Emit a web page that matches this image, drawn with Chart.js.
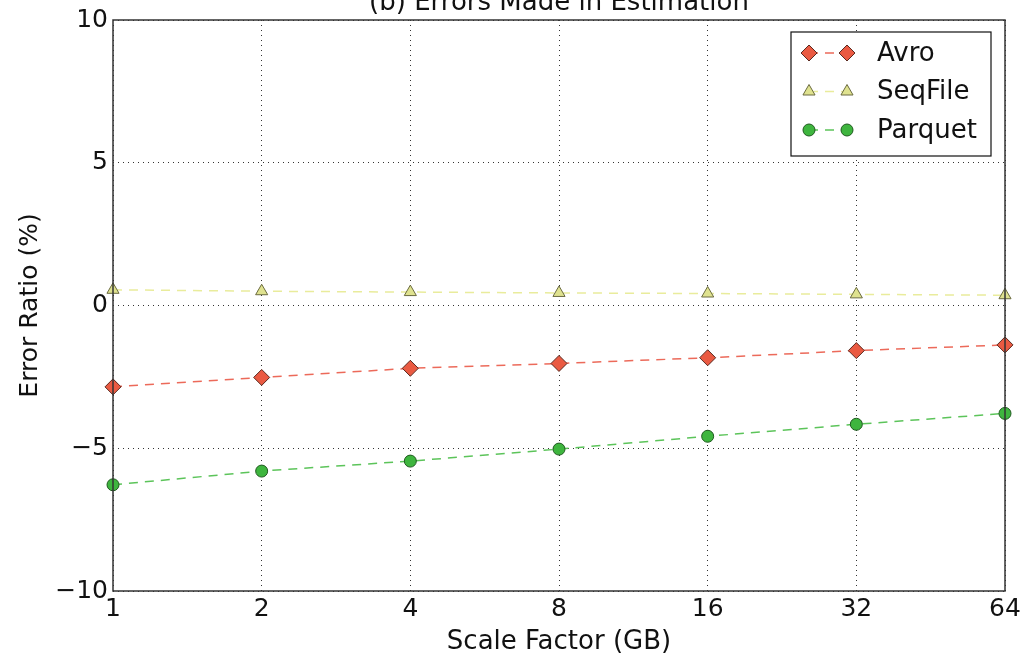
<!DOCTYPE html>
<html>
<head>
<meta charset="utf-8">
<script src="https://cdn.jsdelivr.net/npm/chart.js@4"></script>
<style>
  html, body { margin: 0; padding: 0; background: #fff; }
  #wrap { width: 1032px; height: 658px; }
</style>
</head>
<body>
<div id="wrap"><canvas id="chart" width="1032" height="658"></canvas></div>
<script>
// Chart data
const scaleFactors = ['1', '2', '4', '8', '16', '32', '64'];
const avroErrors = [-2.85, -2.52, -2.2, -2.03, -1.83, -1.58, -1.38];
const seqFileErrors = [0.55, 0.5, 0.47, 0.44, 0.42, 0.39, 0.36];
const parquetErrors = [-6.28, -5.8, -5.45, -5.03, -4.58, -4.16, -3.78];
const yTicks = [-10, -5, 0, 5, 10];

const FONT = 'DejaVu Sans';

// Frame around plot area + title, drawn like matplotlib
const framePlugin = {
    id: 'frame',
    afterDraw(chart) {
        const { ctx, chartArea: a } = chart;
        ctx.save();
        ctx.strokeStyle = '#333';
        ctx.lineWidth = 1.5;
        ctx.strokeRect(a.left, a.top, a.right - a.left, a.bottom - a.top);
        ctx.fillStyle = '#111';
        ctx.font = '26px ' + FONT;
        ctx.textAlign = 'center';
        ctx.textBaseline = 'alphabetic';
        ctx.fillText('(b) Errors Made in Estimation', (a.left + a.right) / 2, 10);
        ctx.restore();
    }
};

// Matplotlib-style legend: marker - line - marker
const legendPlugin = {
    id: 'mplLegend',
    afterDraw(chart) {
        const { ctx } = chart;
        const box = { x: 791, y: 32, w: 200, h: 124 };
        ctx.save();
        ctx.fillStyle = '#fff';
        ctx.fillRect(box.x, box.y, box.w, box.h);
        ctx.strokeStyle = '#111';
        ctx.lineWidth = 1.2;
        ctx.strokeRect(box.x, box.y, box.w, box.h);
        chart.data.datasets.forEach((ds, i) => {
            const y = 53 + i * 38.5;
            ctx.strokeStyle = ds.borderColor;
            ctx.lineWidth = ds.borderWidth;
            ctx.setLineDash(ds.borderDash);
            ctx.beginPath();
            ctx.moveTo(809, y);
            ctx.lineTo(847, y);
            ctx.stroke();
            ctx.setLineDash([]);
            [809, 847].forEach(px => {
                ctx.fillStyle = ds.pointBackgroundColor;
                ctx.strokeStyle = ds.pointBorderColor;
                ctx.lineWidth = ds.pointBorderWidth;
                Chart.helpers.drawPoint(ctx, {
                    pointStyle: ds.pointStyle,
                    radius: ds.pointRadius,
                    borderWidth: ds.pointBorderWidth,
                    rotation: 0
                }, px, y);
            });
            ctx.fillStyle = '#111';
            ctx.font = '26px ' + FONT;
            ctx.textAlign = 'left';
            ctx.textBaseline = 'middle';
            ctx.fillText(ds.label, 877, y + 1);
        });
        ctx.restore();
    }
};

function series(label, data, line, fill, edge, style, radius) {
    return {
        label: label,
        data: data,
        borderColor: line,
        borderWidth: 1.5,
        borderDash: [9, 7],
        pointStyle: style,
        pointRadius: radius,
        pointBackgroundColor: fill,
        pointBorderColor: edge,
        pointBorderWidth: 1,
        tension: 0,
        clip: false
    };
}

new Chart(document.getElementById('chart'), {
    type: 'line',
    data: {
        labels: scaleFactors,
        datasets: [
            series('Avro', avroErrors, '#ec6a5a', '#ea5a42', '#5a2a20', 'rectRot', 8),
            series('SeqFile', seqFileErrors, '#e9ec9c', '#dfe28f', '#6b6b40', 'triangle', 7),
            series('Parquet', parquetErrors, '#5cc45a', '#3eb53e', '#1f5a1f', 'circle', 6)
        ]
    },
    options: {
        responsive: false,
        animation: false,
        layout: { padding: { top: 19, right: 27, left: 0, bottom: 0 } },
        plugins: {
            legend: { display: false },
            tooltip: { enabled: false }
        },
        scales: {
            x: {
                type: 'category',
                offset: false,
                afterFit: s => { s.height = 67; },
                grid: {
                    color: '#333',
                    lineWidth: 1,
                    drawTicks: false
                },
                border: { display: false, dash: [1, 4] },
                ticks: {
                    color: '#111',
                    font: { family: FONT, size: 25 },
                    padding: 3,
                    maxRotation: 0
                },
                title: {
                    display: true,
                    text: 'Scale Factor (GB)',
                    color: '#111',
                    font: { family: FONT, size: 26 },
                    padding: { top: 0, bottom: 0 }
                }
            },
            y: {
                min: -10,
                max: 10,
                afterFit: s => { s.width = 113; },
                afterBuildTicks: s => { s.ticks = yTicks.map(v => ({ value: v })); },
                grid: {
                    color: '#333',
                    lineWidth: 1,
                    drawTicks: false
                },
                border: { display: false, dash: [1, 4] },
                ticks: {
                    color: '#111',
                    font: { family: FONT, size: 25 },
                    padding: 5,
                    callback: v => String(v).replace('-', '\u2212')
                },
                title: {
                    display: true,
                    text: 'Error Ratio (%)',
                    color: '#111',
                    font: { family: FONT, size: 25 },
                    padding: { top: 15, bottom: 0 }
                }
            }
        }
    },
    plugins: [framePlugin, legendPlugin]
});
</script>
</body>
</html>
